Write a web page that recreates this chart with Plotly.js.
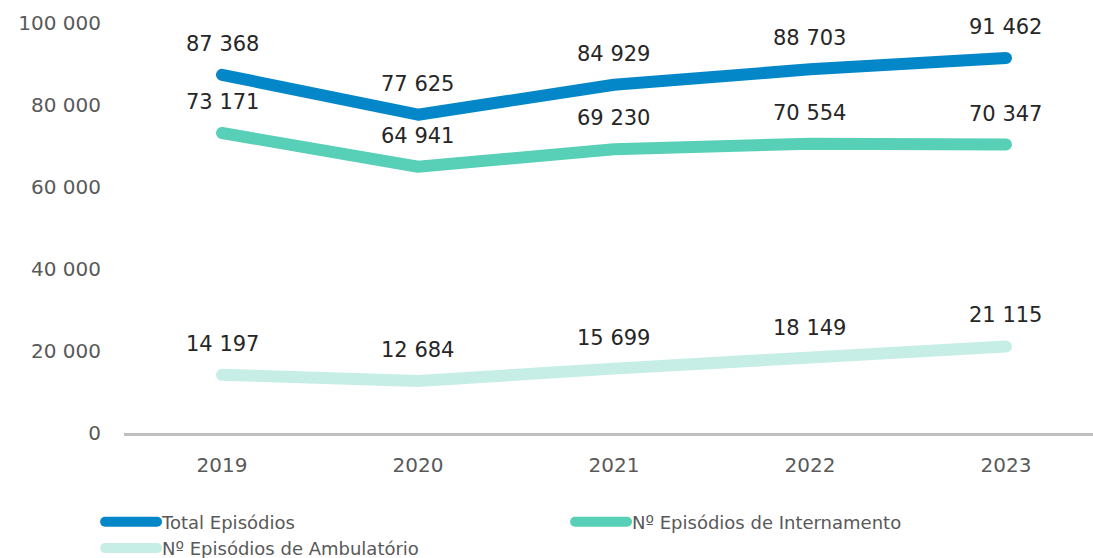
<!DOCTYPE html>
<html>
<head>
<meta charset="utf-8">
<script src="https://cdn.plot.ly/plotly-3.0.1.min.js"></script>
<style>
html,body{margin:0;padding:0;background:#fff;}
#chart{width:1093px;height:558px;}
.scatterlayer path.js-line{stroke-linecap:round;stroke-linejoin:round;}
.legend path.js-line{stroke-linecap:round;}
</style>
</head>
<body>
<div id="chart"></div>
<script>
const years = ['2019','2020','2021','2022','2023'];
const totalEpisodios = [87368, 77625, 84929, 88703, 91462];
const internamento = [73171, 64941, 69230, 70554, 70347];
const ambulatorio = [14197, 12684, 15699, 18149, 21115];
const seriesNames = ['Total Episódios', 'Nº Episódios de Internamento', 'Nº Episódios de Ambulatório'];
const seriesColors = ['#0487C8', '#58D0B8', '#C6EEE6'];
const yTickVals = [0, 20000, 40000, 60000, 80000, 100000];

const FONT = '"DejaVu Sans", sans-serif';
function fmt(v){ return String(v).replace(/\B(?=(\d{3})+(?!\d))/g, ' '); }

const allSeries = [totalEpisodios, internamento, ambulatorio];
const traces = allSeries.map((vals, i) => ({
  x: years, y: vals, type: 'scatter', mode: 'lines', name: seriesNames[i],
  line: {color: seriesColors[i], width: 12}, hoverinfo: 'skip'
}));

const annotations = [];
allSeries.forEach(vals => {
  vals.forEach((v, j) => {
    annotations.push({x: j, y: v, xref: 'x', yref: 'y', text: fmt(v), showarrow: false,
      yanchor: 'middle', yshift: 31, font: {family: FONT, size: 21, color: '#262626'}});
  });
});

const layout = {
  width: 1093, height: 558,
  margin: {l: 124, r: 0, t: 23, b: 125, autoexpand: false},
  paper_bgcolor: '#ffffff', plot_bgcolor: '#ffffff',
  font: {family: FONT, color: '#595959'},
  showlegend: true,
  legend: {orientation: 'h', x: -0.0247, xanchor: 'left', y: -0.172, yanchor: 'top',
    entrywidth: 403, entrywidthmode: 'pixels', itemwidth: 52, tracegroupgap: 0,
    font: {family: FONT, size: 18, color: '#595959'}, traceorder: 'normal'},
  xaxis: {type: 'category', range: [-0.5, 4.444], showgrid: false, zeroline: false,
    showline: true, linecolor: '#BFBFBF', linewidth: 3, ticks: '', ticklabelstandoff: 12,
    tickfont: {family: FONT, size: 20, color: '#595959'}, fixedrange: true},
  yaxis: {range: [0, 100000], tickvals: yTickVals, ticktext: yTickVals.map(fmt),
    showgrid: false, zeroline: false, showline: false, ticks: '', ticklabelstandoff: 22,
    tickfont: {family: FONT, size: 20, color: '#595959'}, fixedrange: true},
  annotations: annotations
};

Plotly.newPlot('chart', traces, layout, {displayModeBar: false, staticPlot: true});
</script>
</body>
</html>
